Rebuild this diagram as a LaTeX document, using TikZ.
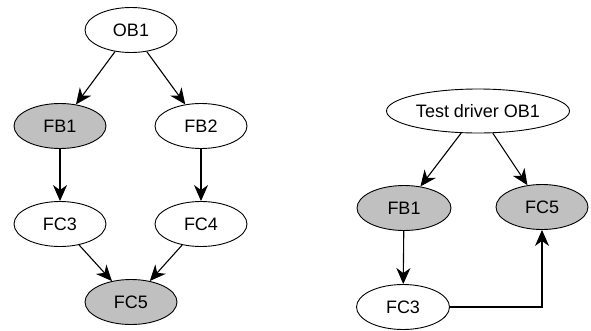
\documentclass[tikz,border=0pt]{standalone}
\usepackage{fontspec}
\setmainfont{Liberation Sans}
\usetikzlibrary{shapes.geometric,arrows.meta}
\definecolor{nodegray}{RGB}{192,192,192}
\begin{document}
\begin{tikzpicture}[x=1pt,y=-1pt,
  ell/.style={ellipse,draw=black,line width=0.9pt,fill=white,minimum width=92pt,minimum height=45pt,inner sep=0pt,font=\fontsize{18}{20}\selectfont},
  shaded/.style={ell,fill=nodegray},
  conn/.style={-{Stealth[length=16pt,width=14pt,inset=5pt]},line width=1.1pt}]
\useasboundingbox (0,0) rectangle (591,330);
% left graph
\node[ell] (ob1) at (131,30) {OB1};
\node[shaded] (fb1) at (60,126) {FB1};
\node[ell] (fb2) at (201,126) {FB2};
\node[ell] (fc3) at (60,224) {FC3};
\node[ell] (fc4) at (201,224) {FC4};
\node[shaded] (fc5) at (131,302) {FC5};
\draw[conn] (ob1) -- (fb1);
\draw[conn] (ob1) -- (fb2);
\draw[conn] (fb1) -- (fc3);
\draw[conn] (fb2) -- (fc4);
\draw[conn] (fc3) -- (fc5);
\draw[conn] (fc4) -- (fc5);
% right graph
\node[ell,minimum width=183pt,minimum height=44pt] (tob1) at (478,111) {Test driver OB1};
\node[shaded,minimum width=94pt] (rfb1) at (404,208) {FB1};
\node[shaded,minimum width=92pt] (rfc5) at (542,207) {FC5};
\node[ell,minimum width=93pt] (rfc3) at (403,307) {FC3};
\draw[conn] (tob1) -- (rfb1);
\draw[conn] (tob1) -- (rfc5);
\draw[conn] (rfb1) -- (rfc3);
\draw[conn] (rfc3.east) -| (rfc5.south);
\end{tikzpicture}
\end{document}
